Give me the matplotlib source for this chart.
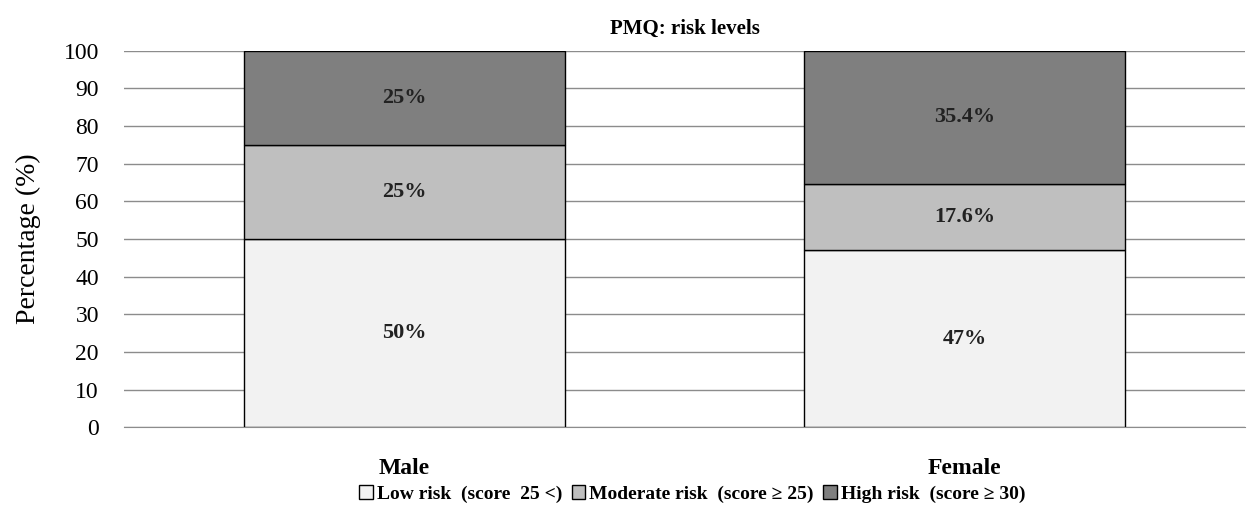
import matplotlib
matplotlib.use('Agg')
import matplotlib.pyplot as plt
import numpy as np

plt.rcParams['font.family'] = ['Liberation Serif', 'DejaVu Serif']

groups = ['Male', 'Female']
low_risk = [50, 47]
moderate_risk = [25, 17.6]
high_risk = [25, 35.4]
low_labels = ['50%', '47%']
moderate_labels = ['25%', '17.6%']
high_labels = ['25%', '35.4%']
series_names = ['Low risk  (score  25 <)', 'Moderate risk  (score \u2265 25)', 'High risk  (score \u2265 30)']

fig = plt.figure(figsize=(12.47, 5.19), dpi=100)
ax = fig.add_axes([0.0994, 0.177, 0.899, 0.725])

x = np.arange(len(groups))
w = 0.573
b1 = ax.bar(x, low_risk, w, color='#f2f2f2', edgecolor='black', linewidth=1, label=series_names[0], zorder=3)
b2 = ax.bar(x, moderate_risk, w, bottom=low_risk, color='#bfbfbf', edgecolor='black', linewidth=1, label=series_names[1], zorder=3)
bottom2 = [a + b for a, b in zip(low_risk, moderate_risk)]
b3 = ax.bar(x, high_risk, w, bottom=bottom2, color='#7f7f7f', edgecolor='black', linewidth=1, label=series_names[2], zorder=3)

for bars, labs in [(b1, low_labels), (b2, moderate_labels), (b3, high_labels)]:
    ax.bar_label(bars, labels=labs, label_type='center', fontsize=16, fontweight='bold', color='#222222')

ax.set_xlim(-0.5, 1.5)
ax.set_ylim(0, 100)
ax.set_yticks(range(0, 101, 10))
ax.yaxis.grid(True, color='#8c8c8c', linewidth=1, zorder=0)
ax.set_axisbelow(True)
for s in ['left', 'right', 'top']:
    ax.spines[s].set_visible(False)
ax.spines['bottom'].set_color('#8c8c8c')
ax.tick_params(axis='both', length=0, labelsize=17)
ax.tick_params(axis='y', pad=18)
ax.tick_params(axis='x', pad=22)
ax.set_xticks(x)
ax.set_xticklabels(groups, fontweight='bold', fontsize=17)
ax.set_ylabel('Percentage (%)', fontsize=20, labelpad=16)
ax.set_title('PMQ: risk levels', fontweight='bold', fontsize=15, pad=12)

ax.legend(loc='center', bbox_to_anchor=(0.507, -0.177), ncol=3, frameon=False,
          handlelength=0.7, handleheight=0.7, handletextpad=0.2, columnspacing=0.5,
          prop={'weight': 'bold', 'size': 14})

fig.savefig('out.png', dpi=100)
